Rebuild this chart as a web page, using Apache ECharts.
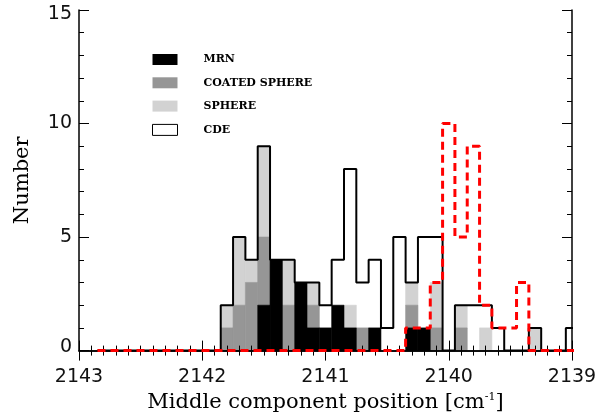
<!DOCTYPE html>
<html>
<head>
<meta charset="utf-8">
<script src="https://cdn.jsdelivr.net/npm/echarts@6/dist/echarts.min.js"></script>
<style>html,body{margin:0;padding:0;background:#fff}#c{width:606px;height:418px}</style>
</head>
<body>
<div id="c"></div>
<script>
// Bin centres (cm^-1), from left (high) to right (low); bin width 0.1
const binCenters = [2142.8,2142.7,2142.6,2142.5,2142.4,2142.3,2142.2,2142.1,2142.0,2141.9,
  2141.8,2141.7,2141.6,2141.5,2141.4,2141.3,2141.2,2141.1,2141.0,2140.9,
  2140.8,2140.7,2140.6,2140.5,2140.4,2140.3,2140.2,2140.1,2140.0,2139.9,
  2139.8,2139.7,2139.6,2139.5,2139.4,2139.3,2139.2,2139.1,2139.0];
const binWidth = 0.1;
// counts per model (stacked: MRN bottom, then coated sphere, sphere, CDE)
const mrn    = [0,0,0,0,0,0,0,0,0,0, 0,0,0,2,4,0,3,1,1,2, 1,0,1,0,0,1,1,0,0,0, 0,0,0,0,0,0,0,0,0];
const coated = [0,0,0,0,0,0,0,0,0,0, 1,2,3,3,0,2,0,1,0,0, 0,1,0,0,0,1,0,1,0,1, 0,0,0,0,0,0,0,0,0];
const sphere = [0,0,0,0,0,0,0,0,0,0, 1,3,1,4,0,2,0,1,0,0, 1,0,0,0,0,1,0,2,0,1, 0,1,0,0,0,1,0,0,0];
const cde    = [0,0,0,0,0,0,0,0,0,0, 0,0,0,0,0,0,0,0,1,2, 6,2,3,1,5,0,4,2,0,0, 2,1,1,0,0,0,0,0,1];
// red dashed histogram
const redHist= [0,0,0,0,0,0,0,0,0,0, 0,0,0,0,0,0,0,0,0,0, 0,0,0,0,0,1,1,3,10,5, 9,2,1,1,3,0,0,0,0];
const xTicks = [2143,2142,2141,2140,2139];
const yTicks = [0,5,10,15];
const names = ['MRN','COATED SPHERE','SPHERE','CDE'];
const colors = ['#000000','#969696','#d2d2d2','#ffffff'];

const layers = [mrn, coated, sphere, cde];
const cum = binCenters.map(() => 0);
const layerData = layers.map(arr => arr.map((v, i) => {
  const lo = cum[i]; cum[i] += v; return [binCenters[i], lo, cum[i]];
}));
const totals = cum.slice();

function stepPoints(vals) {
  const pts = [];
  binCenters.forEach((c, i) => {
    pts.push([c + binWidth/2, vals[i]]);
    pts.push([c - binWidth/2, vals[i]]);
  });
  return pts;
}

function renderItem(params, api) {
  const c = api.value(0), y0 = api.value(1), y1 = api.value(2);
  if (!(y1 > y0)) return null;
  const p0 = api.coord([c + binWidth/2, y1]);
  const p1 = api.coord([c - binWidth/2, y0]);
  const rect = {
    x: Math.min(p0[0], p1[0]), y: Math.min(p0[1], p1[1]),
    width: Math.abs(p1[0]-p0[0]), height: Math.abs(p1[1]-p0[1])
  };
  const cs = params.coordSys;
  const shape = echarts.graphic.clipRectByRect(rect, {x: cs.x, y: cs.y, width: cs.width, height: cs.height});
  if (!shape) return null;
  const col = api.visual('color');
  return {type: 'rect', shape: shape, style: {fill: col, stroke: col, lineWidth: 0.6}};
}

const series = layers.map((arr, k) => ({
  type: 'custom', name: names[k], renderItem: renderItem,
  data: layerData[k], encode: {x: 0, y: [1, 2]},
  itemStyle: {color: colors[k]}, z: 2 + (3 - k) * 0.1
}));
series.push({
  type: 'line', name: 'total', data: stepPoints(totals), symbol: 'none', clip: true,
  lineStyle: {color: '#000', width: 2}, z: 5, silent: true
});
series.push({
  type: 'line', name: 'red', data: stepPoints(redHist), symbol: 'none', clip: true,
  lineStyle: {color: '#ff0000', width: 3, type: [8, 5]}, z: 20, silent: true
});

const axisLine = {lineStyle: {color: '#000', width: 1.5}};
const tickLabelFont = {fontFamily: 'DejaVu Sans', fontSize: 19, color: '#111'};

const option = {
  animation: false,
  backgroundColor: '#fff',
  grid: {left: 79, right: 34, top: 10, bottom: 63},
  legend: {
    left: 152, top: 54, orient: 'vertical', itemWidth: 25, itemHeight: 11, itemGap: 12.3,
    icon: 'rect', selectedMode: false, padding: 0,
    data: names.map((n, k) => ({name: n, itemStyle: {color: colors[k], borderColor: k === 3 ? '#000' : colors[k], borderWidth: k === 3 ? 1 : 0}})),
    textStyle: {fontFamily: 'DejaVu Serif', fontWeight: 'bold', fontSize: 11, color: '#000', padding: [0, 0, 0, 21]}
  },
  xAxis: [{
    type: 'value', position: 'bottom', min: 2139, max: 2143, interval: 1, inverse: true, z: 10,
    axisLine: axisLine,
    axisTick: {inside: true, length: 10, lineStyle: {color: '#000', width: 1}},
    minorTick: {show: true, splitNumber: 10, length: 5, lineStyle: {color: '#000', width: 1}},
    splitLine: {show: false},
    axisLabel: Object.assign({margin: 17, formatter: v => xTicks.includes(v) ? String(v) : ''}, tickLabelFont),
    name: 'Middle component position [cm{sup|-1}]', nameLocation: 'middle', nameGap: 34,
    nameTextStyle: {fontFamily: 'DejaVu Serif', fontSize: 21, color: '#000',
      rich: {sup: {fontFamily: 'DejaVu Serif', fontSize: 11, verticalAlign: 'top', padding: [0, 0, 11, 0]}}}
  }, {
    type: 'value', position: 'top', min: 2139, max: 2143, interval: 1, inverse: true, z: 10,
    axisLine: axisLine,
    axisTick: {inside: true, length: 10, lineStyle: {color: '#000', width: 1}},
    minorTick: {show: true, splitNumber: 10, length: 5, lineStyle: {color: '#000', width: 1}},
    splitLine: {show: false}, axisLabel: {show: false}
  }],
  yAxis: [{
    type: 'value', position: 'left', min: 0, max: 15, interval: 5, z: 10,
    axisLine: Object.assign({show: true}, axisLine),
    axisTick: {show: true, inside: true, length: 10, lineStyle: {color: '#000', width: 1}},
    minorTick: {show: true, splitNumber: 5, length: 5, lineStyle: {color: '#000', width: 1}},
    splitLine: {show: false},
    axisLabel: Object.assign({margin: 7,
      formatter: v => !yTicks.includes(v) ? '' : (v === 15 ? '{t|15}' : v === 0 ? '{b|0}' : String(v)),
      rich: {
        t: {fontFamily: 'DejaVu Sans', fontSize: 19, color: '#111', padding: [9, 0, 0, 0]},
        b: {fontFamily: 'DejaVu Sans', fontSize: 19, color: '#111', padding: [0, 0, 8, 0]}
      }}, tickLabelFont),
    name: 'Number', nameLocation: 'middle', nameGap: 46, nameRotate: 90,
    nameTextStyle: {fontFamily: 'DejaVu Serif', fontSize: 21, color: '#000'}
  }, {
    type: 'value', position: 'right', min: 0, max: 15, interval: 5, z: 10,
    axisLine: Object.assign({show: true}, axisLine),
    axisTick: {show: true, inside: true, length: 10, lineStyle: {color: '#000', width: 1}},
    minorTick: {show: true, splitNumber: 5, length: 5, lineStyle: {color: '#000', width: 1}},
    splitLine: {show: false}, axisLabel: {show: false}
  }],
  series: series
};
echarts.init(document.getElementById('c'), null, {renderer: 'canvas'}).setOption(option);
</script>
</body>
</html>
